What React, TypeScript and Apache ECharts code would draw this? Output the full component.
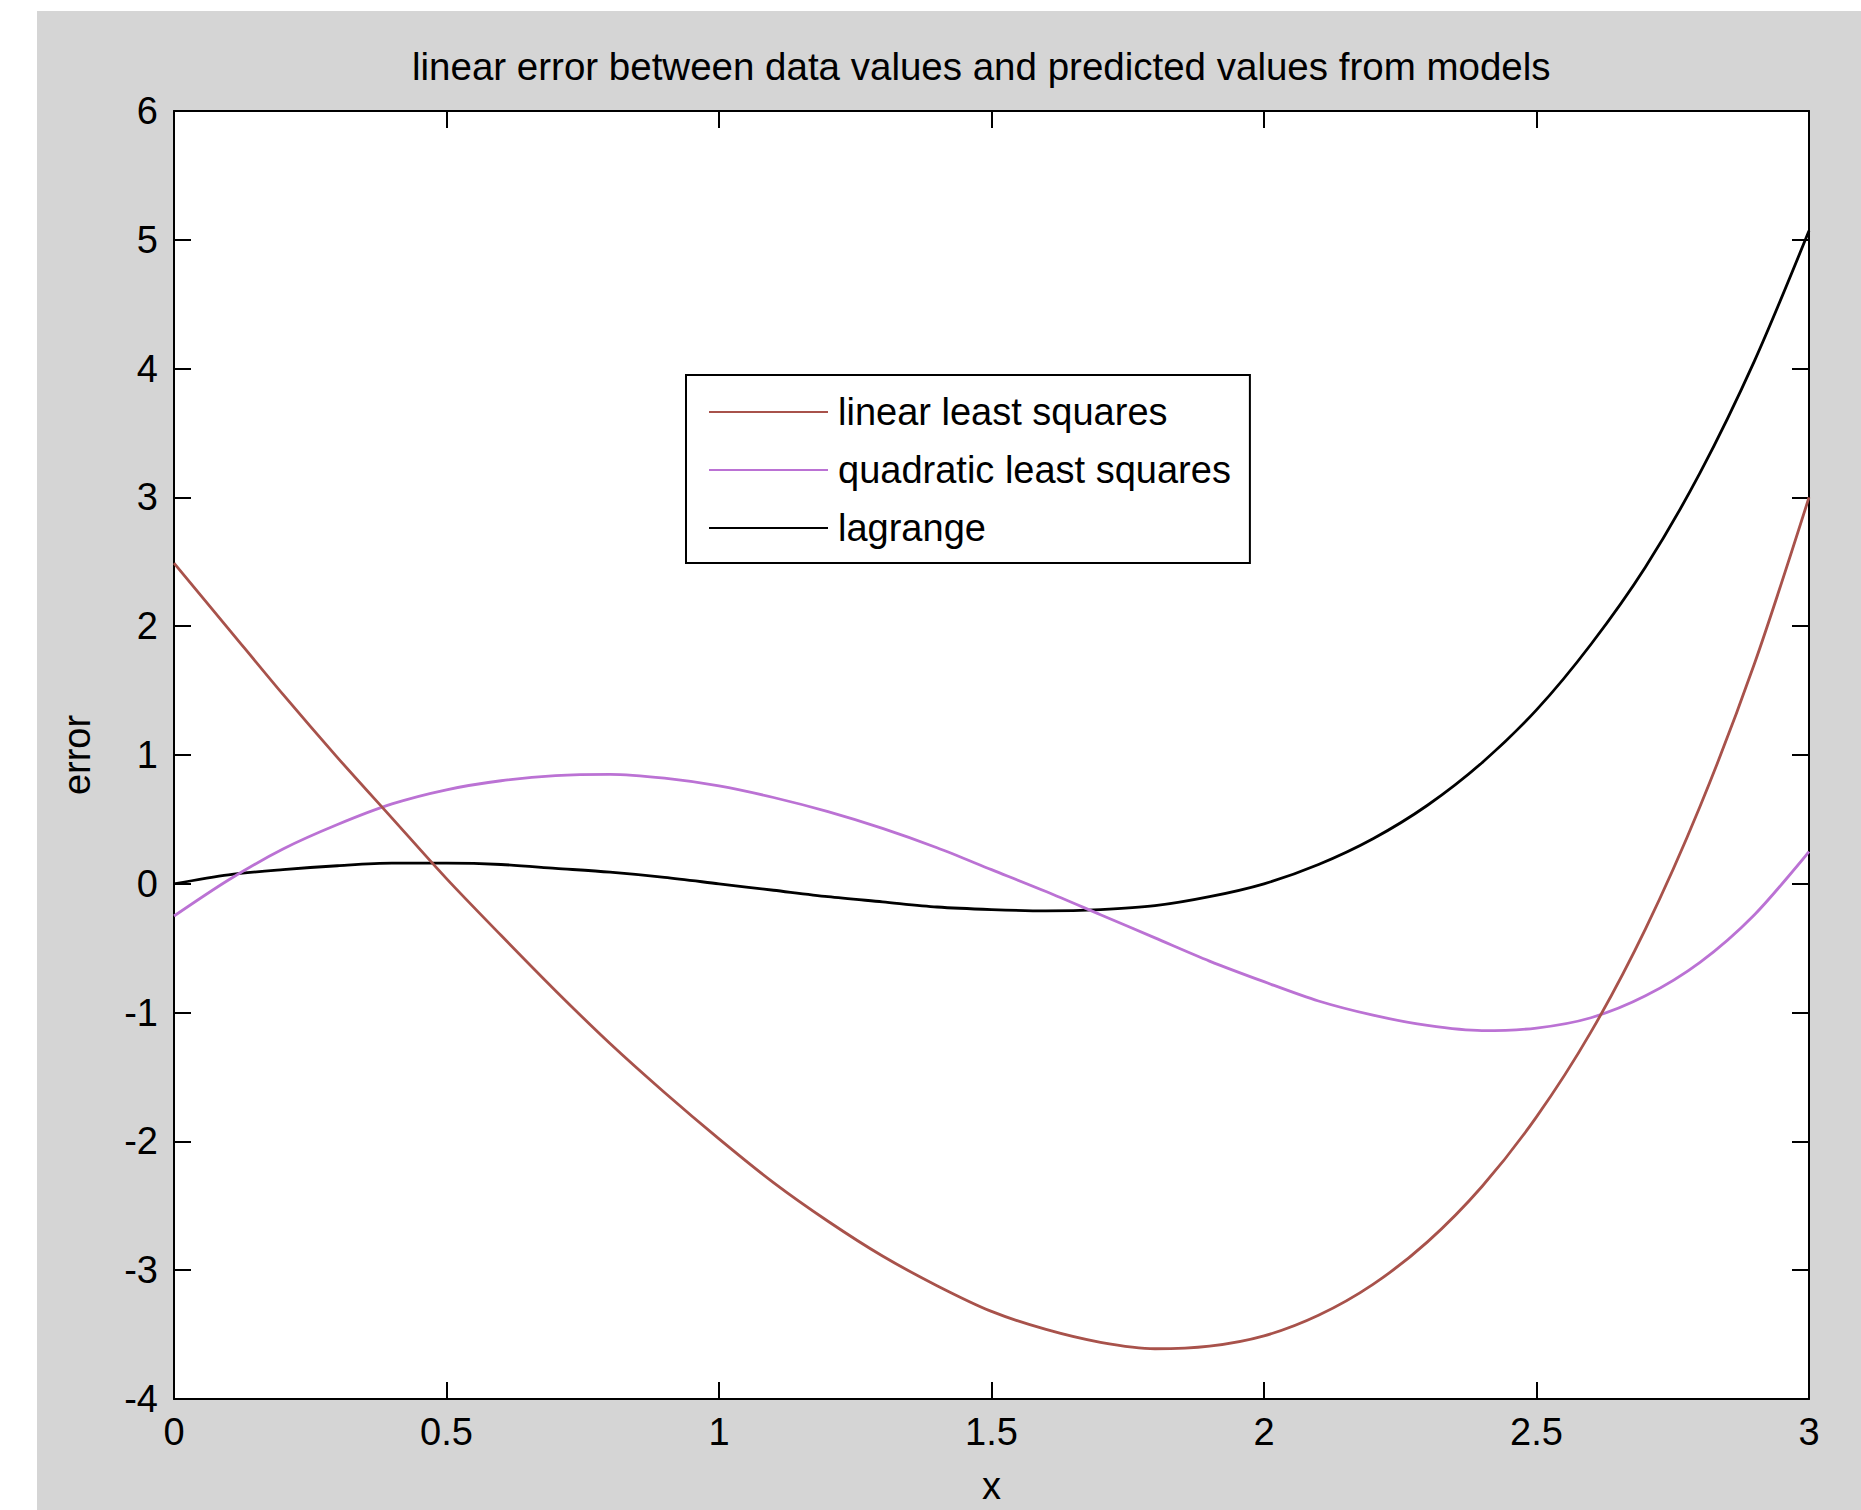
import React, { useEffect, useRef } from "react";
import * as echarts from "echarts";

const titleText = "linear error between data values and predicted values from models";
const xAxisName = "x";
const yAxisName = "error";
const seriesNames = ["linear least squares", "quadratic least squares", "lagrange"];
const seriesColors = ["#a8524b", "#bb72d4", "#000000"];

const xValues = [
  0, 0.1, 0.2, 0.3, 0.4, 0.5, 0.6, 0.7, 0.8, 0.9, 1.0, 1.1, 1.2, 1.3, 1.4, 1.5,
  1.6, 1.7, 1.8, 1.9, 2.0, 2.1, 2.2, 2.3, 2.4, 2.5, 2.6, 2.7, 2.8, 2.9, 3.0,
];
const linearErr = [
  2.49, 1.98, 1.47, 0.98, 0.51, 0.04, -0.4, -0.83, -1.24, -1.62, -1.98, -2.32, -2.62, -2.89, -3.12, -3.32,
  -3.46, -3.56, -3.61, -3.59, -3.51, -3.35, -3.11, -2.78, -2.35, -1.81, -1.15, -0.35, 0.6, 1.71, 3.0,
];
const quadErr = [
  -0.25, 0.03, 0.27, 0.46, 0.62, 0.73, 0.8, 0.84, 0.85, 0.82, 0.76, 0.67, 0.56, 0.43, 0.28, 0.11,
  -0.06, -0.24, -0.42, -0.6, -0.76, -0.91, -1.02, -1.1, -1.14, -1.12, -1.04, -0.87, -0.61, -0.24, 0.25,
];
const lagrangeErr = [
  0, 0.07, 0.11, 0.14, 0.16, 0.16, 0.15, 0.12, 0.09, 0.05, 0, -0.05, -0.1, -0.14, -0.18, -0.2,
  -0.21, -0.2, -0.17, -0.1, 0, 0.15, 0.35, 0.61, 0.94, 1.35, 1.86, 2.46, 3.19, 4.06, 5.07,
];

const FONT = "'Liberation Sans', Arial, Helvetica, sans-serif";

export default function App() {
  const ref = useRef<HTMLDivElement>(null);

  useEffect(() => {
    if (!ref.current) return;
    const chart = echarts.init(ref.current, undefined, { renderer: "svg" });
    const allSeries = [linearErr, quadErr, lagrangeErr];

    const axisCommon = {
      type: "value" as const,
      axisLine: { show: true, onZero: false, lineStyle: { color: "#000", width: 2 } },
      axisTick: { show: true, inside: true, length: 17, lineStyle: { color: "#000", width: 2 } },
      splitLine: { show: false },
    };

    chart.setOption({
      animation: false,
      backgroundColor: "transparent",
      textStyle: { fontFamily: FONT },
      title: {
        text: titleText,
        left: 412,
        top: 47,
        padding: 0,
        textStyle: { fontSize: 38.5, fontWeight: "normal", color: "#000", fontFamily: FONT },
      },
      legend: {
        orient: "vertical",
        left: 686,
        top: 375,
        padding: [17, 19, 15, 23],
        backgroundColor: "#fff",
        borderColor: "#000",
        borderWidth: 2,
        borderRadius: 0,
        icon: "rect",
        itemWidth: 119,
        itemHeight: 2,
        itemGap: 18,
        textStyle: { fontSize: 38, lineHeight: 40, color: "#000", fontFamily: FONT, padding: [0, 0, 0, 5] },
        data: seriesNames,
      },
      grid: {
        left: 174,
        top: 111,
        width: 1635,
        height: 1288,
        show: true,
        backgroundColor: "#fff",
        borderWidth: 0,
      },
      xAxis: [
        {
          ...axisCommon,
          position: "bottom",
          min: 0,
          max: 3,
          interval: 0.5,
          name: xAxisName,
          nameLocation: "middle",
          nameGap: 68,
          nameTextStyle: { fontSize: 38, color: "#000", fontFamily: FONT },
          axisLabel: { show: true, fontSize: 38, color: "#000", margin: 14, fontFamily: FONT },
        },
        {
          ...axisCommon,
          position: "top",
          min: 0,
          max: 3,
          interval: 0.5,
          axisLabel: { show: false },
        },
      ],
      yAxis: [
        {
          ...axisCommon,
          position: "left",
          min: -4,
          max: 6,
          interval: 1,
          name: yAxisName,
          nameLocation: "middle",
          nameRotate: 90,
          nameGap: 78,
          nameTextStyle: { fontSize: 38, color: "#000", fontFamily: FONT },
          axisLabel: { show: true, fontSize: 38, color: "#000", margin: 16, fontFamily: FONT },
        },
        {
          ...axisCommon,
          position: "right",
          min: -4,
          max: 6,
          interval: 1,
          axisLabel: { show: false },
        },
      ],
      series: allSeries.map((vals, i) => ({
        name: seriesNames[i],
        type: "line",
        xAxisIndex: 0,
        yAxisIndex: 0,
        data: xValues.map((x, j) => [x, vals[j]]),
        smooth: 0.3,
        symbol: "none",
        color: seriesColors[i],
        itemStyle: { color: seriesColors[i] },
        lineStyle: { color: seriesColors[i], width: 2.8 },
        z: 3 - i,
      })),
    });

    return () => chart.dispose();
  }, []);

  return (
    <div style={{ position: "fixed", left: 0, top: 0, width: 1861, height: 1510, background: "#fff" }}>
      <div
        style={{ position: "absolute", left: 37, top: 11, right: 0, bottom: 0, background: "#d5d5d5" }}
      />
      <div ref={ref} style={{ position: "absolute", left: 0, top: 0, width: 1861, height: 1510 }} />
    </div>
  );
}
